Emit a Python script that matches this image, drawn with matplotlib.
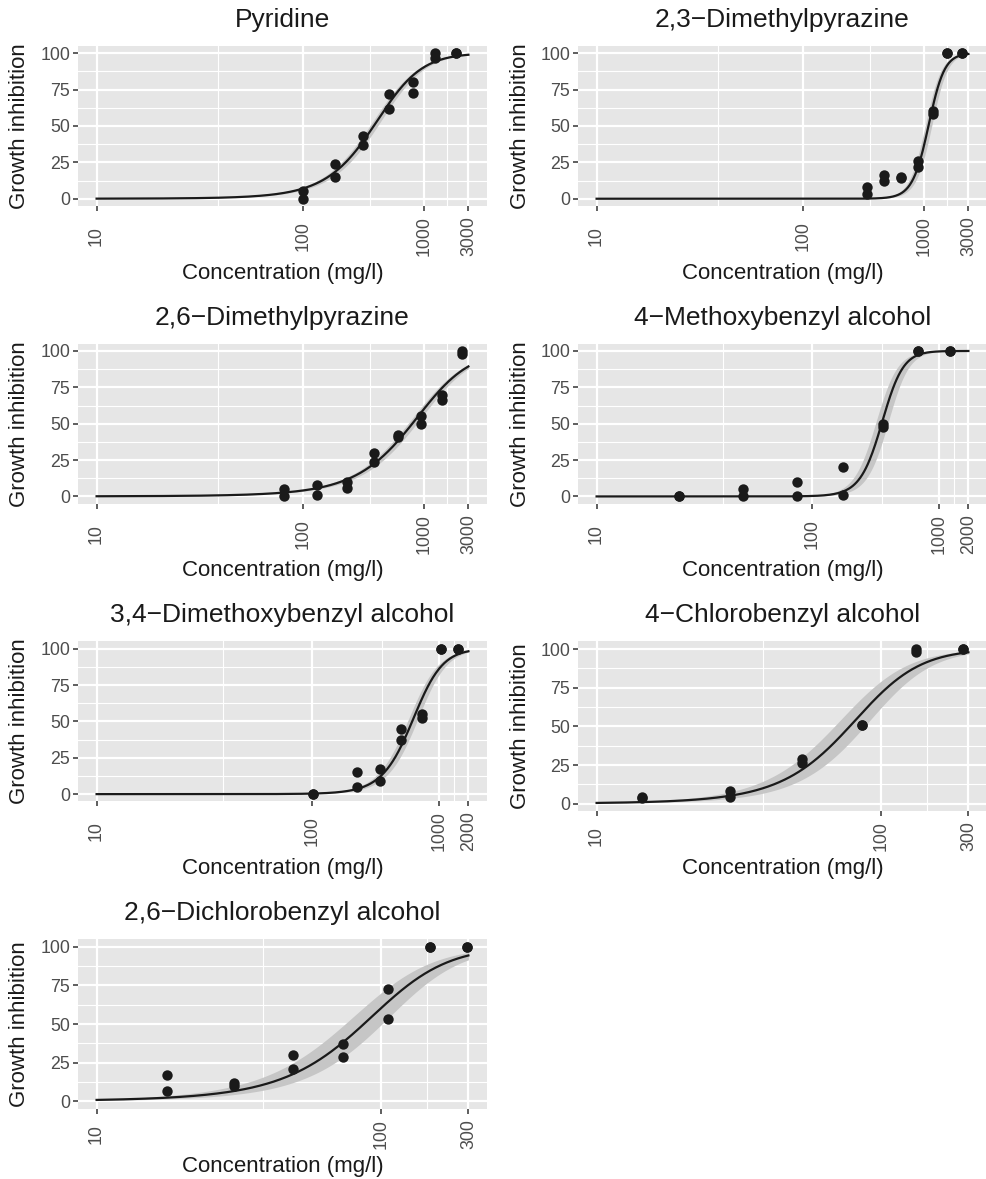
"""Dose-response panels: growth inhibition vs concentration for seven compounds."""

import numpy as np

import matplotlib
matplotlib.use("Agg")
import matplotlib.pyplot as plt

plt.rcParams["font.family"] = ["Liberation Sans", "DejaVu Sans"]

# --- measured points (two replicates per concentration) -------------------
pyridine_conc = [100, 100, 167, 167, 278, 278, 463, 463, 772, 772, 1286, 1286, 2143, 2143]
pyridine_inhib = [0, 5, 15, 24, 37, 43, 62, 72, 73, 80, 97, 100, 100, 100]

dmp23_conc = [297, 297, 418, 418, 600, 600, 866, 866, 1228, 1228, 1742, 1742, 2560, 2560]
dmp23_inhib = [3, 8, 12, 16, 14, 15, 22, 26, 58, 60, 100, 100, 100, 100]

dmp26_conc = [75, 75, 124, 124, 205, 205, 341, 341, 557, 557, 932, 932, 1537, 1537, 2560, 2560]
dmp26_inhib = [0, 5, 1, 8, 6, 10, 24, 30, 41, 42, 50, 55, 66, 70, 98, 100]

methoxy4_conc = [20, 20, 40, 40, 80, 80, 160, 160, 320, 320, 640, 640, 1280, 1280]
methoxy4_inhib = [0, 0, 0, 5, 0, 10, 1, 20, 48, 50, 100, 100, 100, 100]

dimethoxy34_conc = [101, 101, 204, 204, 303, 303, 459, 459, 691, 691, 1045, 1045, 1571, 1571]
dimethoxy34_inhib = [0, 0, 5, 15, 9, 17, 37, 45, 52, 55, 100, 100, 100, 100]

chloro4_conc = [13.1, 13.1, 24.2, 24.2, 44.8, 44.8, 81.8, 81.8, 151, 151, 280, 280]
chloro4_inhib = [3.5, 4.5, 4, 8, 26, 29, 51, 51, 98, 100, 100, 100]

dichloro26_conc = [15.4, 15.4, 25.1, 25.1, 41, 41, 66.5, 66.5, 108.7, 108.7, 180, 180, 293, 293]
dichloro26_inhib = [7, 17, 10, 12, 21, 30, 29, 37, 53, 73, 100, 100, 100, 100]

titles = [
    "Pyridine", "2,3\u2212Dimethylpyrazine", "2,6\u2212Dimethylpyrazine",
    "4\u2212Methoxybenzyl alcohol", "3,4\u2212Dimethoxybenzyl alcohol",
    "4\u2212Chlorobenzyl alcohol", "2,6\u2212Dichlorobenzyl alcohol",
]
concs = [pyridine_conc, dmp23_conc, dmp26_conc, methoxy4_conc,
         dimethoxy34_conc, chloro4_conc, dichloro26_conc]
inhibs = [pyridine_inhib, dmp23_inhib, dmp26_inhib, methoxy4_inhib,
          dimethoxy34_inhib, chloro4_inhib, dichloro26_inhib]

# x-axis breaks per panel
x_breaks = [
    [10, 100, 1000, 3000], [10, 100, 1000, 3000], [10, 100, 1000, 3000],
    [10, 100, 1000, 2000], [10, 100, 1000, 2000], [10, 100, 300], [10, 100, 300],
]

# log-logistic fit: EC50, Hill slope, and EC50 spread of the confidence band
ec50 = [340, 1100, 760, 315, 570, 71.5, 83]
hill = [2.1, 5.3, 1.55, 5.0, 3.2, 2.7, 2.2]
band_factor = [1.08, 1.08, 1.10, 1.12, 1.10, 1.17, 1.22]

y_breaks = [0, 25, 50, 75, 100]
y_minor = [12.5, 37.5, 62.5, 87.5]

W, H = 986, 1179
PANEL_BG = "#E6E6E6"
BAND = "#C6C6C6"
INK = "#1A1A1A"


def fwd(x):
    x = np.asarray(x, dtype=float)
    return np.log(np.log10(np.clip(x, 1.0001, None)))


def inv(t):
    return 10 ** np.exp(np.asarray(t, dtype=float))


def loglogistic(x, e, b):
    return 100.0 / (1.0 + (e / x) ** b)


def fig_xy(px, py):
    return px / W, 1 - py / H


fig = plt.figure(figsize=(W / 100, H / 100), dpi=100)

row_step = 297.7
for i, title in enumerate(titles):
    row, col = divmod(i, 2)
    breaks = x_breaks[i]
    short = max(len(str(b)) for b in breaks) <= 3

    x0 = 78 + col * 500
    x1 = x0 + 409
    top = 46 + row * row_step
    bottom = top + 160 + (10 if short else 0)

    ax = fig.add_axes([x0 / W, 1 - bottom / H, (x1 - x0) / W, (bottom - top) / H])
    ax.set_facecolor(PANEL_BG)
    ax.set_xscale("function", functions=(fwd, inv))

    t_max = float(fwd(breaks[-1]))
    pad = 0.05 * t_max
    ax.set_xlim(float(inv(-pad)), float(inv(t_max + pad)))
    ax.set_ylim(-5, 105)

    # fitted curve and band over the break range
    xs = inv(np.linspace(0, t_max, 400))
    lo = loglogistic(xs, ec50[i] * band_factor[i], hill[i])
    hi = loglogistic(xs, ec50[i] / band_factor[i], hill[i])
    ax.fill_between(xs, lo, hi, color=BAND, lw=0, zorder=2)
    ax.plot(xs, loglogistic(xs, ec50[i], hill[i]), color=INK, lw=1.6, zorder=3)
    ax.scatter(concs[i], inhibs[i], s=56, color=INK, lw=0, zorder=4)

    minor = [np.sqrt(a * b) for a, b in zip(breaks[:-1], breaks[1:])]
    ax.set_xticks(breaks, [str(b) for b in breaks], rotation=90, va="center", ha="center")
    ax.set_xticks(minor, minor=True)
    ax.set_xticklabels([], minor=True)
    ax.set_yticks(y_breaks, [str(v) for v in y_breaks])
    ax.set_yticks(y_minor, minor=True)

    ax.set_axisbelow(True)
    ax.grid(which="major", color="white", lw=1.6)
    ax.grid(which="minor", color="white", lw=0.8)
    for s in ax.spines.values():
        s.set_visible(False)
    ax.tick_params(which="minor", length=0)
    ax.tick_params(which="major", length=3.3, width=1.1, color="#333333",
                   labelcolor="#4D4D4D", labelsize=12.8)
    ax.tick_params(axis="y", pad=2.2)
    ax.tick_params(axis="x", pad=14.8 if short else 18.4)

    cx = (x0 + x1) / 2
    fig.text(*fig_xy(cx, top - 26), title, ha="center", va="center",
             fontsize=19, color=INK)
    fig.text(*fig_xy(cx, top + 227), "Concentration (mg/l)", ha="center",
             va="center", fontsize=16, color=INK)
    fig.text(*fig_xy(x0 - 58, (top + bottom) / 2), "Growth inhibition",
             ha="center", va="center", rotation=90, fontsize=16, color=INK)

fig.savefig("out.png", dpi=100)
plt.close(fig)
